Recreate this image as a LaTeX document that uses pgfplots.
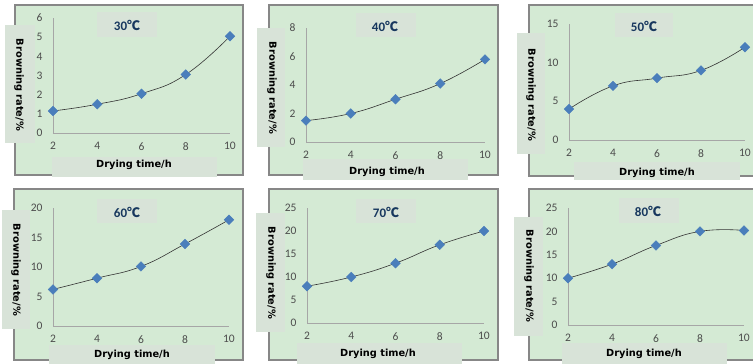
\documentclass[border=0pt]{standalone}
\usepackage{pgfplots}
\pgfplotsset{compat=1.18}
\usepackage{fontspec}
\setmainfont{Carlito}
\newfontfamily\lblfont{DejaVu Sans}
\newfontfamily\cjk{Noto Sans CJK SC}
\definecolor{panelbg}{RGB}{212,234,212}
\definecolor{boxbg}{RGB}{216,227,216}
\definecolor{bordergray}{RGB}{135,135,135}
\definecolor{titleblue}{RGB}{23,55,94}
\definecolor{markblue}{RGB}{74,126,187}

\pgfplotsset{panelaxis/.style={
  scale only axis, anchor=south west,
  axis x line=bottom, axis y line=left,
  axis line style={draw=black!35, -},
  xmin=2, xmax=10, xtick={2,4,6,8,10},
  ymin=0,
  major tick length=0pt,
  tick label style={font=\fontsize{11.5}{12}\selectfont, text=black!70},
  /pgf/number format/assume math mode=true,
  xticklabel style={yshift=-6pt}, yticklabel style={xshift=-7pt},
  clip=false,
}}
\tikzset{
  pbox/.style={fill=boxbg, draw=none},
  panel/.style={fill=panelbg, draw=bordergray, line width=1.2pt},
  ttl/.style={text=titleblue, font={\fontsize{13}{14}\selectfont\bfseries}},
  xl/.style={font={\lblfont\fontsize{9.8}{10}\selectfont\bfseries}},
  yl/.style={font={\lblfont\fontsize{9.8}{10}\selectfont\bfseries}, rotate=-90},
  dmark/.style={only marks, mark=square*, mark size=3.4pt, mark options={rotate=45, fill=markblue, draw=markblue}},
  curve/.style={smooth, tension=0.8, black!80, line width=0.6pt, no marks},
}

\pgfplotstableread{
x y
2 1.15
4 1.5
6 2.05
8 3.05
10 5.05
}\tA
\pgfplotstableread{
x y
2 1.5
4 2.0
6 3.0
8 4.1
10 5.8
}\tB
\pgfplotstableread{
x y
2 4
4 7
6 8
8 9
10 12
}\tC
\pgfplotstableread{
x y
2 6.2
4 8.1
6 10.1
8 13.9
10 18
}\tD
\pgfplotstableread{
x y
2 8
4 10
6 13
8 17
10 20
}\tE
\pgfplotstableread{
x y
2 10
4 13
6 17
8 20
10 20.2
}\tF

\begin{document}
\begin{tikzpicture}[x=1pt,y=1pt]
\useasboundingbox (0,0) rectangle (753,364);
\begin{scope}
\clip (0,0) rectangle (753,364);
\fill[white] (0,0) rectangle (753,364);
% panels
\draw[panel] (15,189) rectangle (243,359);
\draw[panel] (269,189) rectangle (498,359);
\draw[panel] (529,188) rectangle (765,359);
\draw[panel] (14,4) rectangle (243,175);
\draw[panel] (269,4) rectangle (498,175);
\draw[panel] (529,4) rectangle (765,175);
% y label boxes
\fill[pbox] (5,221) rectangle (35,339);
\fill[pbox] (257,217) rectangle (285,336);
\fill[pbox] (517,210) rectangle (545,331);
\fill[pbox] (2,35) rectangle (30,154);
\fill[pbox] (256,32) rectangle (285,151);
\fill[pbox] (514,28) rectangle (543,147);
% title boxes
\fill[pbox] (97,327) rectangle (157,352);
\fill[pbox] (356,327) rectangle (416,351);
\fill[pbox] (615,327) rectangle (673,351);
\fill[pbox] (97,141) rectangle (157,165);
\fill[pbox] (356,141) rectangle (416,165);
\fill[pbox] (619,141) rectangle (679,166);
% x label boxes
\fill[pbox] (52,187) rectangle (217,207);
\fill[pbox] (303,184) rectangle (468,205);
\fill[pbox] (574,184) rectangle (740,202);
\fill[pbox] (49,0) rectangle (215,19);
\fill[pbox] (297,0) rectangle (462,21);
\fill[pbox] (562,0) rectangle (727,21);

% axes
\begin{axis}[panelaxis, at={(53pt,231pt)}, width=177pt, height=115pt, ymax=6, ytick={0,1,...,6}]
\addplot[dmark] table {\tA};
\addplot[curve] table {\tA};
\end{axis}
\begin{axis}[panelaxis, at={(306pt,222pt)}, width=179pt, height=114pt, ymax=8, ytick={0,2,...,8}]
\addplot[dmark] table {\tB};
\addplot[curve] table {\tB};
\end{axis}
\begin{axis}[panelaxis, at={(569pt,224pt)}, width=176pt, height=116pt, ymax=15, ytick={0,5,...,15}]
\addplot[dmark] table {\tC};
\addplot[curve] table {\tC};
\end{axis}
\begin{axis}[panelaxis, at={(53pt,38pt)}, width=176pt, height=118pt, ymax=20, ytick={0,5,...,20}]
\addplot[dmark] table {\tD};
\addplot[curve] table {\tD};
\end{axis}
\begin{axis}[panelaxis, at={(307pt,41pt)}, width=177pt, height=115pt, ymax=25, ytick={0,5,...,25}]
\addplot[dmark] table {\tE};
\addplot[curve] table {\tE};
\end{axis}
\begin{axis}[panelaxis, at={(568pt,39pt)}, width=176pt, height=117pt, ymax=25, ytick={0,5,...,25}]
\addplot[dmark] table {\tF};
\addplot[curve] table {\tF};
\end{axis}

% titles
\node[ttl] at (127,339) {30{\cjk ℃}};
\node[ttl] at (385,338) {40{\cjk ℃}};
\node[ttl] at (644,338) {50{\cjk ℃}};
\node[ttl] at (127,152) {60{\cjk ℃}};
\node[ttl] at (386,152) {70{\cjk ℃}};
\node[ttl] at (648,153) {80{\cjk ℃}};
% x labels
\node[xl] at (134,199) {Drying time/h};
\node[xl] at (387,192) {Drying time/h};
\node[xl] at (657,191) {Drying time/h};
\node[xl] at (132,9) {Drying time/h};
\node[xl] at (378,10) {Drying time/h};
\node[xl] at (644,10) {Drying time/h};
% y labels
\node[yl] at (19,279) {Browning rate/\%};
\node[yl] at (272,276) {Browning rate/\%};
\node[yl] at (531,269) {Browning rate/\%};
\node[yl] at (16,94) {Browning rate/\%};
\node[yl] at (271,91) {Browning rate/\%};
\node[yl] at (529,88) {Browning rate/\%};
\end{scope}
\end{tikzpicture}
\end{document}
